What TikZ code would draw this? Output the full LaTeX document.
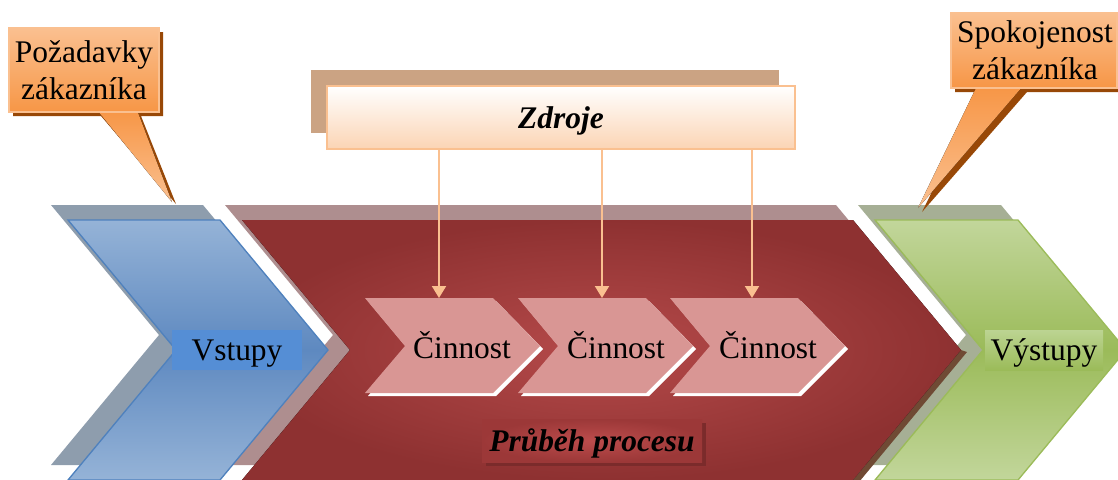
\documentclass[tikz,border=0pt]{standalone}
\usepackage{fontspec}
\setmainfont{Liberation Serif}
\usetikzlibrary{arrows.meta}

\definecolor{bluelight}{HTML}{95B3D7}
\definecolor{bluemid}{HTML}{5E89C0}
\definecolor{blueline}{HTML}{4F81BD}
\definecolor{blueshadow}{HTML}{8E9DAD}
\definecolor{bluebox}{HTML}{558ED5}
\definecolor{redin}{HTML}{B54A4A}
\definecolor{redout}{HTML}{8E3131}
\definecolor{redshadow}{HTML}{AE8E8F}
\definecolor{rededge}{HTML}{6F4A34}
\definecolor{greenlight}{HTML}{C2D69B}
\definecolor{greenmid}{HTML}{9BBB59}
\definecolor{greenshadow}{HTML}{A6AF95}
\definecolor{greenbox}{HTML}{BCD492}
\definecolor{stepfill}{HTML}{D99694}
\definecolor{caltop}{HTML}{FAC090}
\definecolor{calbot}{HTML}{F79646}
\definecolor{calshadow}{HTML}{984807}
\definecolor{zdrshadow}{HTML}{CBA383}
\definecolor{zdrbot}{HTML}{FBD4B4}
\definecolor{procin}{HTML}{BC4C4C}
\definecolor{procout}{HTML}{9C3838}
\definecolor{procshadow}{HTML}{7B2B2B}

\begin{document}
\begin{tikzpicture}[x=0.75pt,y=0.75pt,yscale=-1,xscale=1,
  txt/.style={font=\fontsize{23.6}{28}\selectfont, inner sep=0pt},
  btxt/.style={font=\fontsize{23.6}{28}\selectfont\bfseries\itshape, inner sep=0pt},
  calbox/.style={draw=caltop, line width=0.8pt, top color=caltop, bottom color=calbot},
  calpointer/.style={top color=calbot, bottom color=caltop},
  stepshape/.style={fill=stepfill},
  zarrow/.style={draw=caltop, line width=1.5pt, -{Triangle[width=10.5pt,length=9pt]}}]
\useasboundingbox (0,0) rectangle (1118,479);

% shadows of the three big chevrons
\fill[blueshadow] (51,205) -- (203,205) -- (311,335) -- (203,465) -- (51,465) -- (159,335) -- cycle;
\fill[redshadow] (225,205) -- (836,205) -- (944,335) -- (836,465) -- (225,465) -- (333,335) -- cycle;
\fill[greenshadow] (858,205) -- (1001,205) -- (1109,335) -- (1001,465) -- (858,465) -- (966,335) -- cycle;
\fill[rededge] (961,350) -- (967,352) -- (859,482) -- (853,480) -- cycle;

% inputs
\draw[blueline, line width=1pt, top color=bluelight, bottom color=bluelight, middle color=bluemid]
  (68,220) -- (220,220) -- (328,350) -- (220,480) -- (68,480) -- (176,350) -- cycle;
% process
\fill[inner color=redin, outer color=redout]
  (242,220) -- (853,220) -- (961,350) -- (853,480) -- (242,480) -- (350,350) -- cycle;
% outputs
\draw[greenmid, line width=1pt, top color=greenlight, bottom color=greenlight, middle color=greenmid]
  (875,220) -- (1018,220) -- (1126,350) -- (1018,480) -- (875,480) -- (983,350) -- cycle;

\node[txt, fill=bluebox, minimum width=97.5pt, minimum height=30pt, text depth=0pt] (vstupy) at (237,350) {Vstupy};
\node[txt, top color=greenbox, bottom color=greenmid, minimum width=88.5pt, minimum height=30pt, text depth=0pt] (vystupy) at (1044,350) {Výstupy};

% activities
\fill[white] (368,301) -- (496,301) -- (543,349) -- (496,396) -- (368,396) -- (408,349) -- cycle;
\fill[white] (521,301) -- (649,301) -- (696,349) -- (649,396) -- (521,396) -- (561,349) -- cycle;
\fill[white] (673,301) -- (801,301) -- (848,349) -- (801,396) -- (673,396) -- (713,349) -- cycle;
\fill[stepshape] (365,298) -- (493,298) -- (540,346) -- (493,393) -- (365,393) -- (405,346) -- cycle;
\fill[stepshape] (518,298) -- (646,298) -- (693,346) -- (646,393) -- (518,393) -- (558,346) -- cycle;
\fill[stepshape] (670,298) -- (798,298) -- (845,346) -- (798,393) -- (670,393) -- (710,346) -- cycle;
\node[txt, anchor=base] (c1) at (462,358) {Činnost};
\node[txt, anchor=base] (c2) at (616,358) {Činnost};
\node[txt, anchor=base] (c3) at (768,358) {Činnost};

\fill[procshadow] (486,423) rectangle (706,466);
\node[btxt, inner color=procin, outer color=procout, minimum width=165pt, minimum height=32.25pt, text depth=0pt] (proces) at (592,440.5) {Průběh procesu};

% resources
\fill[zdrshadow] (311,70) rectangle (779,133);
\node[btxt, draw=caltop, line width=1.5pt, top color=white, bottom color=zdrbot, minimum width=351pt, minimum height=47.25pt, text depth=0pt] (zdroje) at (561,117.5) {Zdroje};

\coordinate (c1top) at (439,298);
\coordinate (c2top) at (602,298);
\coordinate (c3top) at (752,298);
\draw[zarrow] (zdroje.south -| c1top) -- (c1top);
\draw[zarrow] (zdroje.south -| c2top) -- (c2top);
\draw[zarrow] (zdroje.south -| c3top) -- (c3top);

% customer callouts
\fill[calshadow] (13,32) -- (163,32) -- (163,116) -- (141,116) -- (176,204) -- (101,116) -- (13,116) -- cycle;
\fill[calpointer] (97,110) -- (137,110) -- (172,202) -- cycle;
\draw[calbox] (9,28) rectangle (159,112);
\node[txt, align=center] (pozad) at (84,70) {Požadavky\\zákazníka};

\fill[calshadow] (955,17) -- (1121,17) -- (1121,92) -- (1027,92) -- (922,212) -- (981,92) -- (955,92) -- cycle;
\fill[calpointer] (977,86) -- (1023,86) -- (918,208) -- cycle;
\draw[calbox] (951,13) rectangle (1117,88);
\node[txt, align=center] (spokoj) at (1035,50) {Spokojenost\\zákazníka};
\end{tikzpicture}
\end{document}
